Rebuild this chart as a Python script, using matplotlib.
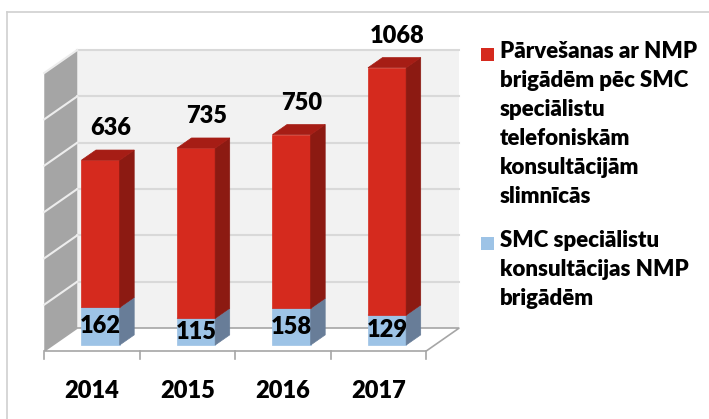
import matplotlib
matplotlib.use("Agg")
import matplotlib.pyplot as plt
from matplotlib.patches import Polygon, Rectangle
from matplotlib.lines import Line2D

# ---- data ----
years = ["2014", "2015", "2016", "2017"]
consultations = [162, 115, 158, 129]
transfers = [636, 735, 750, 1068]
series_names = [
    "Pārvešanas ar NMP\nbrigādēm pēc SMC\nspeciālistu\ntelefoniskām\nkonsultācijām\nslimnīcās",
    "SMC speciālistu\nkonsultācijas NMP\nbrigādēm",
]
y_max = 1200
y_step = 200

# ---- style ----
FONT = "Lato"
WEIGHT = "heavy"
RED = dict(front="#D52A1E", side="#8C1A12", top="#A61D15")
BLUE = dict(front="#9DC3E6", side="#687D98", top="#7E9CC0")
W, H = 709, 419

fig = plt.figure(figsize=(W / 100, H / 100), dpi=100)
ax = fig.add_axes([0, 0, 1, 1])
ax.set_axis_off()

# oblique projection geometry (pixels)
px_per_cat = 95.5
x0_px = 92.0
y0_px = 351.0
px_per_val = 278.0 / y_max
ax.set_xlim(-x0_px / px_per_cat, (W - x0_px) / px_per_cat)
ax.set_ylim((y0_px - H) / px_per_val, y0_px / px_per_val)
DX = 33.0 / px_per_cat
DY = 23.0 / px_per_val


def P(x, v, d):
    return (x + DX * d, v + DY * d)


n = len(years)
xl_all, xr_all = -0.5, n - 0.5

# back wall
ax.add_patch(Polygon([P(xl_all, 0, 1), P(xr_all, 0, 1), P(xr_all, y_max, 1), P(xl_all, y_max, 1)],
                     closed=True, facecolor="#F2F2F2", edgecolor="none", zorder=1))
# side wall
ax.add_patch(Polygon([P(xl_all, 0, 0), P(xl_all, 0, 1), P(xl_all, y_max, 1), P(xl_all, y_max, 0)],
                     closed=True, facecolor="#A5A5A5", edgecolor="none", zorder=1))
# gridlines
for v in range(y_step, y_max + 1, y_step):
    a, b = P(xl_all, v, 1), P(xr_all, v, 1)
    ax.add_line(Line2D([a[0], b[0]], [a[1], b[1]], color="#D9D9D9", lw=1.5, zorder=2))
    c = P(xl_all, v, 0)
    ax.add_line(Line2D([c[0], a[0]], [c[1], a[1]], color="#EDEDED", lw=1.5, zorder=2))
# floor
ax.add_patch(Polygon([P(xl_all, 0, 0), P(xr_all, 0, 0), P(xr_all, 0, 1), P(xl_all, 0, 1)],
                     closed=True, facecolor="white", edgecolor="#A6A6A6", lw=1.2, zorder=2))
# category ticks
tick_len = 8 / px_per_val
for k in range(n + 1):
    xb = -0.5 + k
    ax.add_line(Line2D([xb, xb], [0, -tick_len], color="#A6A6A6", lw=1.2, zorder=2))

# bars
bw = 0.40
d0, d1 = 0.26, 0.70


def segment(xc, vb, vt, col, z):
    xl, xr = xc - bw / 2, xc + bw / 2
    ax.add_patch(Polygon([P(xl, vb, d0), P(xr, vb, d0), P(xr, vt, d0), P(xl, vt, d0)],
                         closed=True, facecolor=col["front"], edgecolor=col["front"], lw=0.5, zorder=z))
    ax.add_patch(Polygon([P(xr, vb, d0), P(xr, vb, d1), P(xr, vt, d1), P(xr, vt, d0)],
                         closed=True, facecolor=col["side"], edgecolor=col["side"], lw=0.5, zorder=z))
    ax.add_patch(Polygon([P(xl, vt, d0), P(xr, vt, d0), P(xr, vt, d1), P(xl, vt, d1)],
                         closed=True, facecolor=col["top"], edgecolor=col["top"], lw=0.5, zorder=z))


label_kw = dict(fontfamily=FONT, fontweight=WEIGHT, fontsize=17, color="black", ha="center", va="center")
for i, (c, t) in enumerate(zip(consultations, transfers)):
    segment(i, 0, c, BLUE, 3 + i * 0.1)
    segment(i, c, c + t, RED, 3.05 + i * 0.1)
    bx, by = P(i, c / 2, d0)
    ax.text(bx, by, str(c), zorder=10, **label_kw)
    rx, ry = P(i, c + t, (d0 + d1) / 2)
    ax.text(rx + 0.03, ry + 115, str(t), zorder=10, **label_kw)
    yx, yy = P(i, -172, 0)
    ax.text(yx, yy, years[i], zorder=10, **label_kw)

# frame lines (top and left only visible)
fig.add_artist(Line2D([7 / W, 1], [1 - 12.5 / H, 1 - 12.5 / H], transform=fig.transFigure,
                      color="#D0D0D0", lw=1.2))
fig.add_artist(Line2D([7.5 / W, 7.5 / W], [0, 1 - 12.5 / H], transform=fig.transFigure,
                      color="#D0D0D0", lw=1.2))

# legend
leg_cols = [RED["front"], BLUE["front"]]
leg_tops = [48, 237]
for name, col, top in zip(series_names, leg_cols, leg_tops):
    fig.add_artist(Rectangle((481 / W, 1 - (top + 13) / H), 13 / W, 13 / H,
                             transform=fig.transFigure, facecolor=col, edgecolor="none"))
    fig.text(500 / W, 1 - (top - 7) / H, name, fontfamily=FONT, fontweight=WEIGHT,
             fontsize=16, va="top", ha="left", linespacing=1.47, color="black")

fig.savefig("out.png", dpi=100)
